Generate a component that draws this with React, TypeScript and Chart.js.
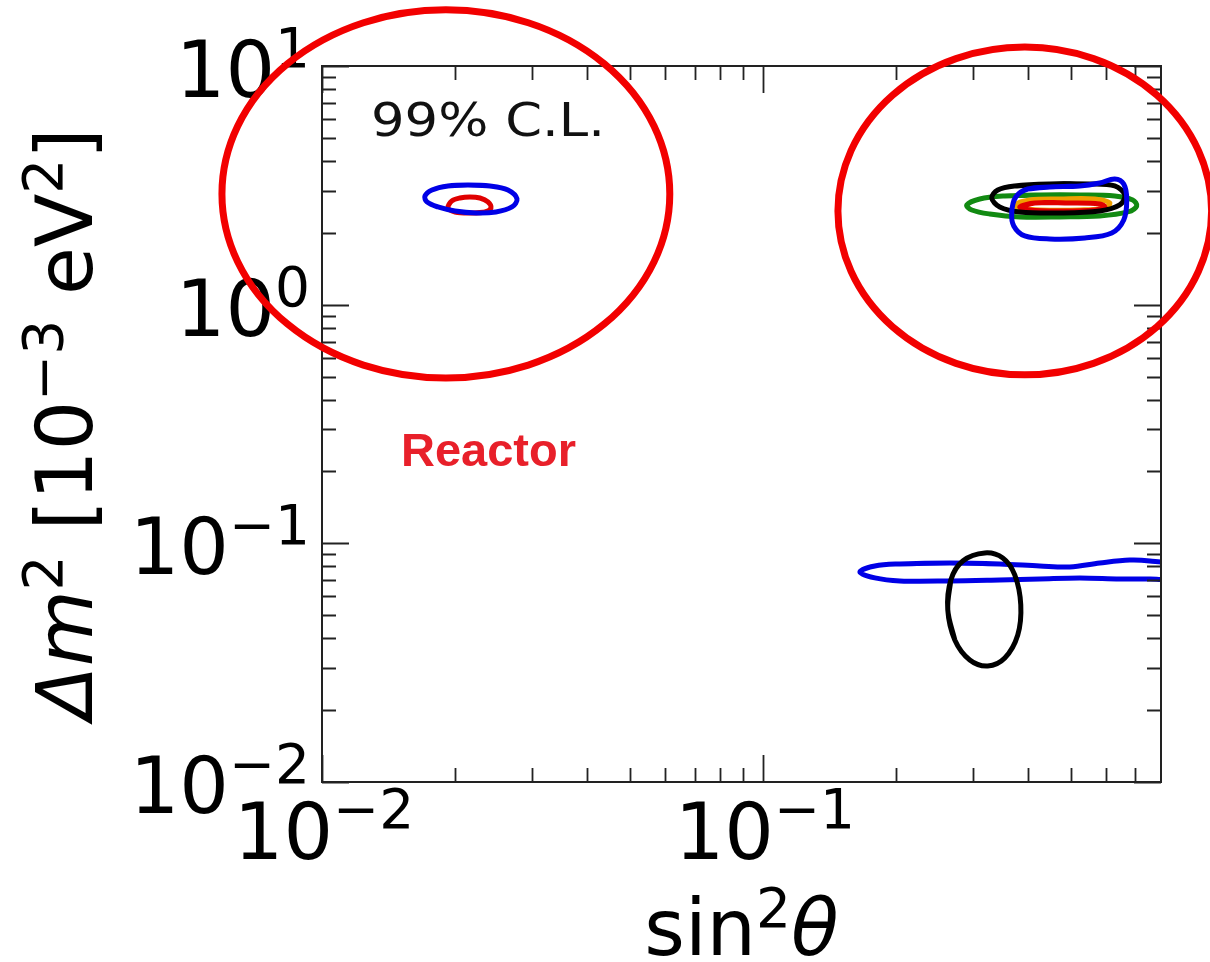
import { useEffect, useRef } from "react";
import { Chart, registerables } from "chart.js";

Chart.register(...registerables);

// ---- axes ----
const X_MIN = 0.01;
const X_MAX = 0.8;
const Y_MIN = 0.01;
const Y_MAX = 10;
const xMajorTicks = [0.01, 0.1];
const xMinorTicks = [0.02, 0.03, 0.04, 0.05, 0.06, 0.07, 0.08, 0.09, 0.2, 0.3, 0.4, 0.5, 0.6, 0.7];
const yMajorTicks = [0.01, 0.1, 1, 10];
const yMinorTicks = [
  0.02, 0.03, 0.04, 0.05, 0.06, 0.07, 0.08, 0.09,
  0.2, 0.3, 0.4, 0.5, 0.6, 0.7, 0.8, 0.9,
  2, 3, 4, 5, 6, 7, 8, 9,
];
const xTickExponents = ["\u22122", "\u22121"];
const yTickExponents = ["\u22122", "\u22121", "0", "1"];

// ---- contours: [sin^2 theta, dm^2 (1e-3 eV^2)] ----
const reactorBlue: number[][] = [
  [0.02143, 3.173], [0.02404, 3.143], [0.02641, 3.024], [0.02769, 2.773], [0.02697, 2.567],
  [0.0248, 2.446], [0.02235, 2.422], [0.02003, 2.469], [0.01832, 2.567], [0.0173, 2.694],
  [0.01712, 2.854], [0.01776, 3.024], [0.01931, 3.143], [0.02143, 3.173],
];
const reactorRed: number[][] = [
  [0.02165, 2.422], [0.02003, 2.446], [0.01931, 2.543], [0.01971, 2.72], [0.02055, 2.799],
  [0.02165, 2.827], [0.02282, 2.799], [0.02379, 2.694], [0.02417, 2.543], [0.02342, 2.446],
  [0.02165, 2.422],
];
const atmGreen: number[][] = [
  [0.4247, 2.882], [0.5234, 2.882], [0.6283, 2.854], [0.6902, 2.746], [0.7048, 2.592],
  [0.6724, 2.446], [0.581, 2.353], [0.4716, 2.331], [0.3826, 2.331], [0.3271, 2.399],
  [0.2978, 2.493], [0.2901, 2.617], [0.3105, 2.773], [0.3538, 2.854], [0.4247, 2.882],
];
const atmBlack: number[][] = [
  [0.4475, 3.204], [0.5514, 3.204], [0.6283, 3.143], [0.662, 2.882], [0.6449, 2.617],
  [0.581, 2.469], [0.4716, 2.422], [0.3826, 2.446], [0.3446, 2.567], [0.3305, 2.799],
  [0.3411, 3.024], [0.3727, 3.143], [0.4475, 3.204],
];
const atmOrange: number[][] = [
  [0.4716, 2.773], [0.5659, 2.773], [0.6121, 2.668], [0.5964, 2.543], [0.5234, 2.493],
  [0.4247, 2.493], [0.3826, 2.543], [0.3727, 2.617], [0.4031, 2.746], [0.4716, 2.773],
];
const atmRed: number[][] = [
  [0.4139, 2.668], [0.4967, 2.668], [0.581, 2.642], [0.5964, 2.567], [0.5659, 2.493],
  [0.4716, 2.469], [0.4031, 2.493], [0.3826, 2.567], [0.4139, 2.668],
];
const atmBlue: number[][] = [
  [0.4475, 3.112], [0.5234, 3.143], [0.581, 3.234], [0.6283, 3.362], [0.6585, 3.204],
  [0.6689, 2.746], [0.6585, 2.264], [0.6185, 1.997], [0.5373, 1.903], [0.4475, 1.885],
  [0.3927, 1.941], [0.3708, 2.137], [0.3669, 2.446], [0.3747, 2.827], [0.3989, 3.052],
  [0.4475, 3.112],
];
const solarBlue: number[][] = [
  [0.2655, 0.08276], [0.3446, 0.08197], [0.4247, 0.0804], [0.4967, 0.07963], [0.581, 0.08276],
  [0.6796, 0.08518], [0.7544, 0.08438], [0.8374, 0.08118], [0.8374, 0.07162], [0.7544, 0.07093],
  [0.6449, 0.07093], [0.5234, 0.07162], [0.4247, 0.07093], [0.3446, 0.07025], [0.2655, 0.06958],
  [0.2045, 0.06958], [0.1795, 0.07162], [0.166, 0.07589], [0.1795, 0.0804], [0.2045, 0.08197],
  [0.2655, 0.08276],
];
const solarBlack: number[][] = [
  [0.2627, 0.0526], [0.2669, 0.07025], [0.2841, 0.08438], [0.3187, 0.09116], [0.3501, 0.08685],
  [0.3727, 0.07371], [0.3846, 0.0552], [0.3786, 0.04133], [0.3538, 0.03311], [0.3237, 0.03065],
  [0.2947, 0.03247], [0.2725, 0.03938], [0.2627, 0.0526],
];

// highlight ellipses, bounding boxes in data units
const highlightEllipses = [
  { xFrom: 0.00593, xTo: 0.0615, yFrom: 0.493, yTo: 17.2 },
  { xFrom: 0.148, xTo: 1.042, yFrom: 0.508, yTo: 12.0 },
];

const BLUE = "#0000e6";
const BLACK = "#000000";
const GREEN = "#128a12";
const RED = "#e00000";
const ORANGE = "#f0a000";

const MAIN = '78px "DejaVu Sans"';
const SUP = '55px "DejaVu Sans"';
const ITAL = 'italic 78px "DejaVu Sans"';

type Piece = { t: string; font: string; dy: number };

function drawPieces(ctx: CanvasRenderingContext2D, pieces: Piece[], x: number, y: number, align: string) {
  let total = 0;
  const widths = pieces.map((p) => {
    ctx.font = p.font;
    const w = ctx.measureText(p.t).width;
    total += w;
    return w;
  });
  let cx = align === "left" ? x : align === "center" ? x - total / 2 : x - total;
  ctx.textAlign = "left";
  ctx.textBaseline = "alphabetic";
  pieces.forEach((p, i) => {
    ctx.font = p.font;
    ctx.fillText(p.t, cx, y + p.dy);
    cx += widths[i];
  });
}

function drawStretched(ctx: CanvasRenderingContext2D, text: string, font: string, color: string, x: number, y: number, width: number) {
  ctx.save();
  ctx.font = font;
  ctx.fillStyle = color;
  ctx.textAlign = "left";
  ctx.textBaseline = "alphabetic";
  const w = ctx.measureText(text).width;
  ctx.translate(x, y);
  ctx.scale(width / w, 1);
  ctx.fillText(text, 0, 0);
  ctx.restore();
}

const framePlugin = {
  id: "frame",
  afterDraw(chart: any) {
    const { ctx, chartArea: a } = chart;
    const xs = chart.scales.x;
    const ys = chart.scales.y;
    ctx.save();
    ctx.strokeStyle = "#222";
    ctx.lineWidth = 2;
    ctx.strokeRect(a.left, a.top, a.right - a.left, a.bottom - a.top);

    const xt = (v: number, len: number) => {
      const px = Math.round(xs.getPixelForValue(v)) + 0.5;
      ctx.beginPath();
      ctx.moveTo(px, a.bottom);
      ctx.lineTo(px, a.bottom - len);
      ctx.moveTo(px, a.top);
      ctx.lineTo(px, a.top + len);
      ctx.stroke();
    };
    const yt = (v: number, len: number) => {
      const py = Math.round(ys.getPixelForValue(v)) + 0.5;
      ctx.beginPath();
      ctx.moveTo(a.left, py);
      ctx.lineTo(a.left + len, py);
      ctx.moveTo(a.right, py);
      ctx.lineTo(a.right - len, py);
      ctx.stroke();
    };
    ctx.lineWidth = 1.8;
    xMinorTicks.forEach((v) => xt(v, 14));
    xMajorTicks.forEach((v) => xt(v, 27));
    yMinorTicks.forEach((v) => yt(v, 14));
    yMajorTicks.forEach((v) => yt(v, 27));

    // tick labels
    ctx.fillStyle = "#000";
    xMajorTicks.forEach((v, i) => {
      const px = xs.getPixelForValue(v);
      drawPieces(ctx, [
        { t: "10", font: MAIN, dy: 0 },
        { t: xTickExponents[i], font: SUP, dy: -31 },
      ], px + 2, a.bottom + 77, "center");
    });
    yMajorTicks.forEach((v, i) => {
      const py = ys.getPixelForValue(v);
      drawPieces(ctx, [
        { t: "10", font: MAIN, dy: 0 },
        { t: yTickExponents[i], font: SUP, dy: -30 },
      ], a.left - 12, py + 31, "right");
    });

    // axis titles
    drawPieces(ctx, [
      { t: "sin", font: MAIN, dy: 0 },
      { t: "2", font: SUP, dy: -28 },
      { t: "\u03b8", font: ITAL, dy: 0 },
    ], (a.left + a.right) / 2, 955, "center");

    ctx.save();
    ctx.translate(92, (a.top + a.bottom) / 2);
    ctx.rotate(-Math.PI / 2);
    drawPieces(ctx, [
      { t: "\u0394", font: ITAL, dy: 0 },
      { t: "m", font: ITAL, dy: 0 },
      { t: "2", font: SUP, dy: -30 },
      { t: " [10", font: MAIN, dy: 0 },
      { t: "\u22123", font: SUP, dy: -30 },
      { t: " eV", font: MAIN, dy: 0 },
      { t: "2", font: SUP, dy: -30 },
      { t: "]", font: MAIN, dy: 0 },
    ], 0, 0, "center");
    ctx.restore();

    // annotations
    drawStretched(ctx, "99% C.L.", '46px "DejaVu Sans"', "#111", 371, 136, 234);
    drawStretched(ctx, "Reactor", 'bold 46px "Liberation Sans"', "#e8202a", 401, 466, 175);

    // highlight ellipses
    ctx.strokeStyle = "#f20000";
    ctx.lineWidth = 7;
    highlightEllipses.forEach((e) => {
      const x0 = xs.getPixelForValue(e.xFrom);
      const x1 = xs.getPixelForValue(e.xTo);
      const y0 = ys.getPixelForValue(e.yFrom);
      const y1 = ys.getPixelForValue(e.yTo);
      ctx.beginPath();
      ctx.ellipse((x0 + x1) / 2, (y0 + y1) / 2, Math.abs(x1 - x0) / 2, Math.abs(y1 - y0) / 2, 0, 0, Math.PI * 2);
      ctx.stroke();
    });
    ctx.restore();
  },
};

function contour(label: string, pts: number[][], color: string, order: number) {
  // wrap one point on each side so the closed loop is smoothed at its seam
  const wrapped = [pts[pts.length - 2], ...pts, pts[1]];
  return {
    label,
    data: wrapped.map(([x, y]) => ({ x, y })),
    borderColor: color,
    backgroundColor: color,
    borderWidth: 5,
    pointRadius: 0,
    pointHoverRadius: 0,
    showLine: true,
    tension: 0.35,
    fill: false,
    order,
  };
}

export default function App() {
  const ref = useRef<HTMLCanvasElement | null>(null);
  useEffect(() => {
    if (!ref.current) return;
    const chart = new Chart(ref.current, {
      type: "scatter",
      data: {
        datasets: [
          contour("Reactor (red)", reactorRed, RED, 10),
          contour("Reactor (blue)", reactorBlue, BLUE, 9),
          contour("Atm green", atmGreen, GREEN, 8),
          contour("Atm orange", atmOrange, ORANGE, 7),
          contour("Atm red", atmRed, RED, 6),
          contour("Atm black", atmBlack, BLACK, 5),
          contour("Atm blue", atmBlue, BLUE, 4),
          contour("Solar blue", solarBlue, BLUE, 3),
          contour("Solar black", solarBlack, BLACK, 2),
        ] as any,
      },
      options: {
        animation: false,
        responsive: false,
        devicePixelRatio: 1,
        events: [],
        layout: { padding: { left: 322, top: 66, right: 49, bottom: 180 } },
        plugins: { legend: { display: false }, tooltip: { enabled: false } },
        scales: {
          x: { type: "logarithmic", min: X_MIN, max: X_MAX, display: false },
          y: { type: "logarithmic", min: Y_MIN, max: Y_MAX, display: false },
        },
      },
      plugins: [framePlugin],
    });
    return () => chart.destroy();
  }, []);
  return (
    <div style={{ position: "absolute", left: 0, top: 0, width: 1210, height: 962, background: "#fff" }}>
      <canvas ref={ref} width={1210} height={962} />
    </div>
  );
}
